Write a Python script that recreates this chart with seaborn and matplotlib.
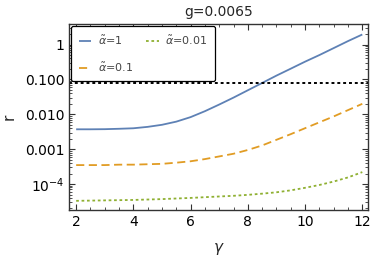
import numpy as np
import pandas as pd
import seaborn as sns
import matplotlib
matplotlib.use("Agg")
import matplotlib.pyplot as plt
from matplotlib.ticker import LogLocator, FixedLocator, FixedFormatter, AutoMinorLocator, NullFormatter

# values (gamma grid, r for each alpha)
gamma = [2, 2.5, 3, 3.5, 4, 4.5, 5, 5.5, 6, 6.5, 7, 7.5, 8, 8.5, 9, 9.5, 10, 10.5, 11, 11.5, 12]
r_a1 = [0.00372, 0.00372, 0.00375, 0.00385, 0.00398, 0.00437, 0.00501, 0.00617, 0.00832, 0.0123, 0.0191,
        0.0302, 0.049, 0.0794, 0.129, 0.204, 0.324, 0.501, 0.794, 1.26, 1.95]
r_a01 = [0.00035, 0.00035, 0.00035, 0.00036, 0.00036, 0.00037, 0.00038, 0.00041, 0.00045, 0.00052,
         0.00062, 0.00074, 0.00095, 0.00128, 0.00186, 0.0027, 0.0040, 0.0059, 0.0087, 0.0132, 0.020]
r_a001 = [3.3e-5, 3.35e-5, 3.4e-5, 3.45e-5, 3.5e-5, 3.6e-5, 3.7e-5, 3.85e-5, 4.0e-5, 4.2e-5,
          4.4e-5, 4.6e-5, 4.9e-5, 5.3e-5, 5.8e-5, 6.6e-5, 7.8e-5, 9.4e-5, 1.18e-4, 1.55e-4, 2.2e-4]
labels = [r"$\tilde{\alpha}$=1", r"$\tilde{\alpha}$=0.1", r"$\tilde{\alpha}$=0.01"]
threshold = 0.077
title = "g=0.0065"

sns.set_style("ticks")
plt.rcParams['font.family'] = ['DejaVu Sans']
plt.rcParams['mathtext.fontset'] = 'dejavusans'

df = pd.DataFrame({"gamma": gamma * 3,
                   "r": r_a1 + r_a01 + r_a001,
                   "alpha": [labels[0]] * len(gamma) + [labels[1]] * len(gamma) + [labels[2]] * len(gamma)})

fig = plt.figure(figsize=(3.74, 2.58), dpi=100)
ax = fig.add_axes([0.1845, 0.186, 0.7995, 0.721])

colors = ["#5E81B5", "#E19C24", "#8FB032"]
styles = [(0, ()), (0, (4.5, 2.5)), (0, (1.5, 1.5))]
for lab, c, ls in zip(labels, colors, styles):
    sub = df[df["alpha"] == lab]
    sns.lineplot(data=sub, x="gamma", y="r", ax=ax, color=c, linestyle=ls, lw=1.3, label=lab)

ax.axhline(threshold, color="black", linestyle=(0, (1.5, 1.5)), lw=1.4)

ax.set_yscale("log")
ax.set_xlim(1.75, 12.2)
ax.set_ylim(1.8e-5, 3.9)

ax.yaxis.set_major_locator(FixedLocator([1e-4, 1e-3, 1e-2, 1e-1, 1]))
ax.yaxis.set_major_formatter(FixedFormatter(["$10^{-4}$", "0.001", "0.010", "0.100", "1"]))
ax.yaxis.set_minor_locator(LogLocator(base=10, subs=np.arange(2, 10), numticks=20))
ax.yaxis.set_minor_formatter(NullFormatter())
ax.set_xticks([2, 4, 6, 8, 10, 12])
ax.xaxis.set_minor_locator(AutoMinorLocator(4))

ax.tick_params(which="both", direction="in", top=True, right=True, labelsize=10, colors="#333333",
               labelcolor="black")
ax.tick_params(which="major", length=4, width=0.8)
ax.tick_params(which="minor", length=2, width=0.6)
for s in ax.spines.values():
    s.set_color("#333333")
    s.set_linewidth(1.0)

ax.set_xlabel(r"$\gamma$", fontsize=11, labelpad=9)
ax.set_ylabel("r", fontsize=11, labelpad=6)
ax.set_title(title, fontsize=10, pad=6)

leg = ax.legend(loc="upper left", ncol=2, fontsize=8, frameon=True, fancybox=True,
                handlelength=1.1, handletextpad=0.6, columnspacing=1.2, labelspacing=1.2,
                borderaxespad=0.2, borderpad=0.7)
leg.get_frame().set_edgecolor("black")
leg.get_frame().set_linewidth(0.9)
leg.get_frame().set_alpha(1)
for t in leg.get_texts():
    t.set_color("#444444")

fig.savefig("out.png", dpi=100)
